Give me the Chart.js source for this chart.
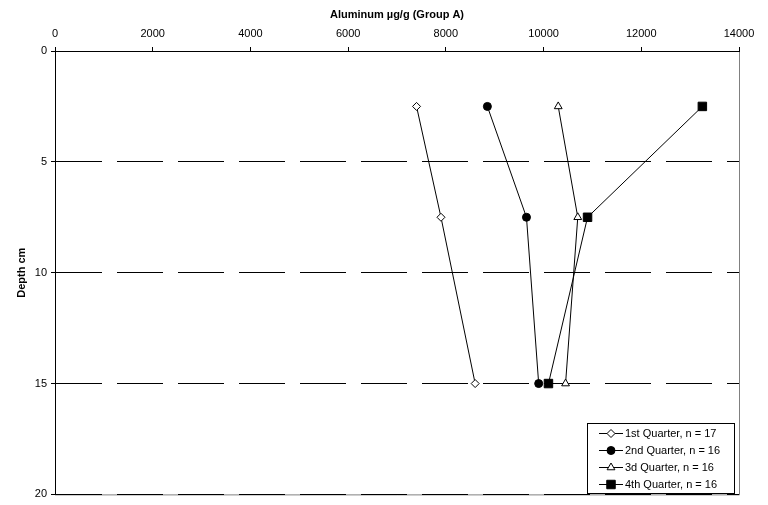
<!DOCTYPE html>
<html>
<head>
<meta charset="utf-8">
<script src="https://cdn.jsdelivr.net/npm/chart.js@4/dist/chart.umd.min.js"></script>
<style>
  html, body { margin: 0; padding: 0; background: #fff; }
  #wrap { width: 768px; height: 505px; }
</style>
</head>
<body>
<div id="wrap"><canvas id="depthChart" width="768" height="505"></canvas></div>
<script>
// depth of each sample layer (cm)
const depths = [2.5, 7.5, 15];

// aluminum concentration per quarter, ug/g
const q1 = [7400, 7900, 8600];
const q2 = [8850, 9650, 9900];
const q3 = [10300, 10700, 10450];
const q4 = [13250, 10900, 10100];

const seriesLabels = ['1st Quarter, n = 17', '2nd Quarter, n = 16', '3d Quarter, n = 16', '4th Quarter, n = 16'];
const xTicks = [0, 2000, 4000, 6000, 8000, 10000, 12000, 14000];
const yTicks = [0, 5, 10, 15, 20];

const FONT = "'Liberation Sans', Arial, sans-serif";

function toPoints(vals) {
    return vals.map((v, i) => ({ x: v, y: depths[i] }));
}

function series(label, vals, style, fill, radius) {
    return {
        label: label,
        data: toPoints(vals),
        showLine: true,
        borderColor: '#000',
        borderWidth: 1,
        pointStyle: style,
        pointRadius: radius,
        pointBackgroundColor: fill,
        pointBorderColor: '#000',
        pointBorderWidth: 1,
    };
}

// grey frame on right + bottom, drawn under the grid
const framePlugin = {
    id: 'frame',
    beforeDraw(chart) {
        const { ctx, chartArea: a } = chart;
        ctx.save();
        ctx.strokeStyle = '#808080';
        ctx.lineWidth = 1;
        ctx.beginPath();
        ctx.moveTo(a.right + 0.5, a.top);
        ctx.lineTo(a.right + 0.5, a.bottom + 0.5);
        ctx.lineTo(a.left, a.bottom + 0.5);
        ctx.stroke();
        ctx.restore();
    }
};

// boxed legend inside the plot, bottom right
const boxLegend = {
    id: 'boxLegend',
    afterDraw(chart) {
        const ctx = chart.ctx;
        const bx = 587.5, by = 423.5, bw = 147, bh = 70;
        ctx.save();
        ctx.fillStyle = '#fff';
        ctx.fillRect(bx, by, bw, bh);
        ctx.strokeStyle = '#000';
        ctx.lineWidth = 1;
        ctx.strokeRect(bx, by, bw, bh);
        ctx.font = '11px ' + FONT;
        ctx.textBaseline = 'middle';
        chart.data.datasets.forEach((ds, i) => {
            const y = 433.5 + i * 17;
            ctx.strokeStyle = '#000';
            ctx.beginPath();
            ctx.moveTo(599, y);
            ctx.lineTo(623, y);
            ctx.stroke();
            ctx.fillStyle = ds.pointBackgroundColor;
            ctx.strokeStyle = '#000';
            ctx.lineWidth = 1;
            Chart.helpers.drawPoint(ctx, {
                pointStyle: ds.pointStyle,
                radius: ds.pointRadius,
                borderWidth: 1,
                rotation: 0
            }, 611, y);
            ctx.fillStyle = '#000';
            ctx.fillText(ds.label, 625, y);
        });
        ctx.restore();
    }
};

const ctx = document.getElementById('depthChart').getContext('2d');
new Chart(ctx, {
    type: 'scatter',
    data: {
        datasets: [
            series(seriesLabels[0], q1, 'rectRot', '#fff', 4),
            series(seriesLabels[1], q2, 'circle', '#000', 4),
            series(seriesLabels[2], q3, 'triangle', '#fff', 4.5),
            series(seriesLabels[3], q4, 'rect', '#000', 6),
        ]
    },
    options: {
        responsive: false,
        animation: false,
        events: [],
        layout: { padding: { left: 0, top: 0, right: 29, bottom: 7 } },
        plugins: {
            legend: { display: false },
            tooltip: { enabled: false }
        },
        scales: {
            x: {
                type: 'linear',
                position: 'top',
                min: 0,
                max: 14000,
                afterBuildTicks(scale) {
                    scale.ticks = xTicks.map(v => ({ value: v }));
                },
                afterFit(scale) { scale.height = 51; },
                ticks: {
                    color: '#000',
                    font: { family: FONT, size: 11 },
                    padding: 6,
                    maxRotation: 0,
                    callback: v => String(v)
                },
                grid: {
                    drawOnChartArea: false,
                    tickLength: 4,
                    tickColor: '#000'
                },
                border: { color: '#000', width: 1 },
                title: {
                    display: true,
                    text: 'Aluminum µg/g (Group A)',
                    color: '#000',
                    font: { family: FONT, size: 11, weight: 'bold' },
                    padding: { top: 8, bottom: 0 }
                }
            },
            y: {
                type: 'linear',
                reverse: true,
                min: 0,
                max: 20,
                afterBuildTicks(scale) {
                    scale.ticks = yTicks.map(v => ({ value: v }));
                },
                afterFit(scale) { scale.width = 55; },
                ticks: {
                    color: '#000',
                    font: { family: FONT, size: 11 },
                    padding: 4,
                    callback: v => String(v)
                },
                grid: {
                    color: '#000',
                    lineWidth: 1,
                    tickLength: 4,
                    tickColor: '#000',
                    tickBorderDash: []
                },
                border: { color: '#000', width: 1, dash: [46, 15] },
                title: {
                    display: true,
                    text: 'Depth cm',
                    color: '#000',
                    font: { family: FONT, size: 11, weight: 'bold' },
                    padding: { top: 15, bottom: 0 }
                }
            }
        }
    },
    plugins: [framePlugin, boxLegend]
});
</script>
</body>
</html>
